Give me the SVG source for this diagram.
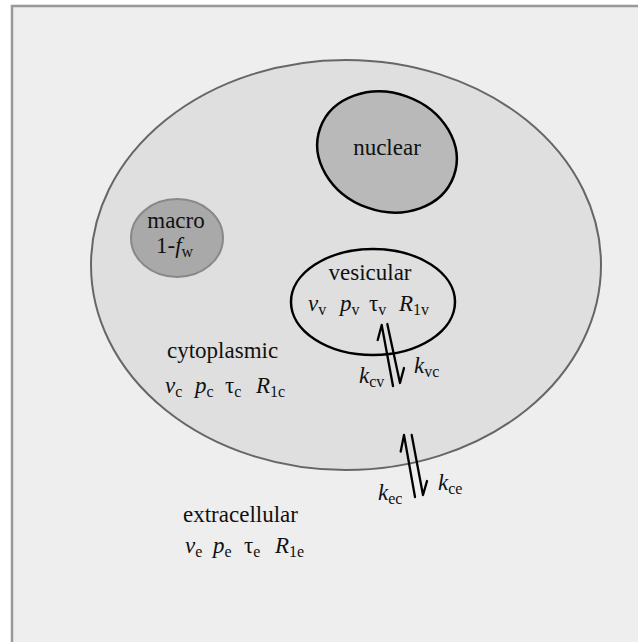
<svg xmlns="http://www.w3.org/2000/svg" width="638" height="642" viewBox="0 0 638 642">
<style>
text{font-family:"Liberation Serif","Times New Roman",serif;font-size:23px;fill:#111}
.i{font-style:italic}
.s{font-size:16px}
.ln{stroke:#000;stroke-width:2.3;fill:none;stroke-linecap:round;stroke-linejoin:round}
</style>
<rect x="0" y="0" width="638" height="642" fill="#ffffff"/>
<rect x="12" y="6" width="650" height="660" fill="#eeeeee" stroke="#999999" stroke-width="2.5"/>
<g id="cytoplasmic">
<ellipse cx="346" cy="265" rx="255" ry="205" fill="#dfdfdf" stroke="#666666" stroke-width="2"/>
<text x="167" y="358">cytoplasmic</text>
<text y="393"><tspan x="165" class="i">v</tspan><tspan class="s" dy="4">c</tspan><tspan x="195" dy="-4" class="i">p</tspan><tspan class="s" dy="4">c</tspan><tspan x="225" dy="-4">τ</tspan><tspan class="s" dy="4">c</tspan><tspan x="256" dy="-4" class="i">R</tspan><tspan class="s" dy="4">1c</tspan></text>
</g>
<g id="nuclear">
<ellipse cx="387" cy="152" rx="71" ry="59" transform="rotate(20 387 152)" fill="#b9b9b9" stroke="#000" stroke-width="2.5"/>
<text x="387" y="155" text-anchor="middle">nuclear</text>
</g>
<g id="macro">
<ellipse cx="177" cy="238" rx="46" ry="39" fill="#a9a9a9" stroke="#888888" stroke-width="2"/>
<text x="176" y="228" text-anchor="middle">macro</text>
<text y="253"><tspan x="156">1-</tspan><tspan class="i">f</tspan><tspan class="s" dy="4">w</tspan></text>
</g>
<g id="vesicular">
<ellipse cx="373" cy="302" rx="82" ry="53" fill="#dfdfdf" stroke="#000" stroke-width="2.5"/>
<text x="370" y="280" text-anchor="middle">vesicular</text>
<text y="311"><tspan x="308" class="i">v</tspan><tspan class="s" dy="4">v</tspan><tspan x="340" dy="-4" class="i">p</tspan><tspan class="s" dy="4">v</tspan><tspan x="369" dy="-4">τ</tspan><tspan class="s" dy="4">v</tspan><tspan x="399" dy="-4" class="i">R</tspan><tspan class="s" dy="4">1v</tspan></text>
</g>
<g id="extracellular">
<text x="183" y="522">extracellular</text>
<text y="553"><tspan x="185" class="i">v</tspan><tspan class="s" dy="4">e</tspan><tspan x="213" dy="-4" class="i">p</tspan><tspan class="s" dy="4">e</tspan><tspan x="244" dy="-4">τ</tspan><tspan class="s" dy="4">e</tspan><tspan x="275" dy="-4" class="i">R</tspan><tspan class="s" dy="4">1e</tspan></text>
</g>
<g id="connectors">
<path class="ln" d="M393 386 L381.7 325 L377.7 340"/>
<path class="ln" d="M387.3 324 L400 383 L404 368"/>
<path class="ln" d="M415 497 L404 435 L400.7 451.5"/>
<path class="ln" d="M411.7 435 L423 495 L427 481"/>
<text y="383"><tspan x="359" class="i">k</tspan><tspan class="s" dy="4">cv</tspan></text>
<text y="373"><tspan x="414" class="i">k</tspan><tspan class="s" dy="4">vc</tspan></text>
<text y="500"><tspan x="378" class="i">k</tspan><tspan class="s" dy="4">ec</tspan></text>
<text y="490"><tspan x="438" class="i">k</tspan><tspan class="s" dy="4">ce</tspan></text>
</g>
</svg>
